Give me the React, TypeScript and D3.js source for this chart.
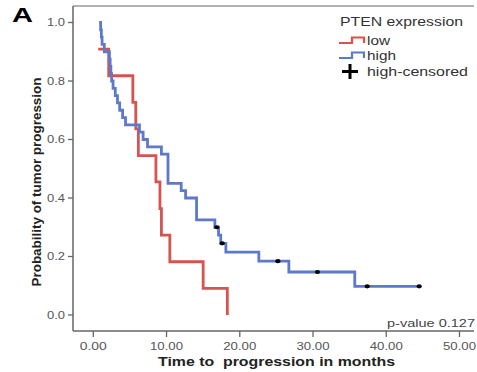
import React from "react";
import * as d3 from "d3";

// Low PTEN expression (n=11): step times and survival after step (first = start point)
const lowTimes = [0.68, 2.1, 5.4, 5.8, 6.15, 8.55, 9.1, 9.3, 10.45, 15.0, 18.3];
const lowSurv = [0.909, 0.818, 0.727, 0.636, 0.545, 0.455, 0.364, 0.273, 0.182, 0.091, 0.0];

// High PTEN expression (n=40)
const highTimes = [0.8, 1.0, 1.1, 1.2, 1.5, 2.2, 2.3, 2.4, 2.5, 2.7, 3.0, 3.3, 3.6, 4.0, 4.4, 6.3, 6.8, 7.4, 9.3, 10.2, 12.0, 12.6, 14.1, 16.6, 17.1, 17.4, 18.1, 22.6, 26.7, 35.7, 44.5];
const highSurv = [1.0, 0.975, 0.95, 0.925, 0.9, 0.875, 0.85, 0.825, 0.8, 0.775, 0.75, 0.725, 0.7, 0.675, 0.65, 0.625, 0.6, 0.575, 0.55, 0.45, 0.425, 0.4, 0.325, 0.3, 0.273, 0.245, 0.215, 0.184, 0.147, 0.098, 0.098];

// Censored observations (high group)
const censorTimes = [16.85, 17.6, 25.2, 30.6, 37.4, 44.5];
const censorSurv = [0.3, 0.245, 0.184, 0.147, 0.098, 0.098];

const xTicks = [0, 10, 20, 30, 40, 50];
const yTicks = [0, 0.2, 0.4, 0.6, 0.8, 1.0];

const RED = "#d65450";
const BLUE = "#5d79c9";
const FONT = "'Liberation Sans', Arial, sans-serif";

export default function App() {
  const x = d3.scaleLinear().domain([0, 50]).range([93.3, 459.5]);
  const y = d3.scaleLinear().domain([0, 1]).range([315, 22.5]);
  const line = d3
    .line<[number, number]>()
    .x((d) => x(d[0]))
    .y((d) => y(d[1]))
    .curve(d3.curveStepAfter);
  const lowPts = lowTimes.map((t, i) => [t, lowSurv[i]] as [number, number]);
  const highPts = highTimes.map((t, i) => [t, highSurv[i]] as [number, number]);

  const left = 73, top = 6, bottom = 331, right = 474;

  return (
    <svg
      width={477}
      height={372}
      style={{ position: "absolute", left: 0, top: 0, background: "#fff" }}
      fontFamily={FONT}
    >
      <rect width={477} height={372} fill="#fff" />
      {/* frame */}
      <line x1={left} y1={top} x2={right} y2={top} stroke="#999" strokeWidth={1.3} />
      <line x1={left} y1={top} x2={left} y2={bottom} stroke="#666" strokeWidth={1.5} />
      <line x1={left} y1={bottom} x2={right} y2={bottom} stroke="#666" strokeWidth={1.5} />

      {/* y ticks */}
      {yTicks.map((v) => (
        <g key={"y" + v}>
          <line x1={68} x2={left} y1={y(v)} y2={y(v)} stroke="#666" strokeWidth={1.3} />
          <text
            x={65}
            y={y(v)}
            dy="0.35em"
            textAnchor="end"
            fontSize={10}
            fill="#555"
            textLength={18}
            lengthAdjust="spacingAndGlyphs"
          >
            {v.toFixed(1)}
          </text>
        </g>
      ))}

      {/* x ticks */}
      {xTicks.map((v) => (
        <g key={"x" + v}>
          <line x1={x(v)} x2={x(v)} y1={bottom} y2={bottom + 6} stroke="#666" strokeWidth={1.3} />
          <text
            x={x(v) - (v === 0 ? 13.5 : 16.5)}
            y={349.5}
            fontSize={10}
            fill="#555"
            textLength={v === 0 ? 27 : 33}
            lengthAdjust="spacingAndGlyphs"
          >
            {v.toFixed(2)}
          </text>
        </g>
      ))}

      {/* curves */}
      <path d={line(lowPts) || ""} fill="none" stroke={RED} strokeWidth={2.8} />
      <path d={line(highPts) || ""} fill="none" stroke={BLUE} strokeWidth={2.8} />
      {censorTimes.map((t, i) => (
        <ellipse key={"c" + i} cx={x(t)} cy={y(censorSurv[i])} rx={2.6} ry={2.1} fill="#000" />
      ))}

      {/* panel letter */}
      <text x={12} y={22} fontSize={19.5} fontWeight="bold" fill="#000" textLength={21} lengthAdjust="spacingAndGlyphs">
        A
      </text>

      {/* legend */}
      <text x={340} y={26} fontSize={12.5} fill="#333" textLength={123} lengthAdjust="spacingAndGlyphs">
        PTEN expression
      </text>
      <path d="M339,43 H352 V37.5 H364 V43" fill="none" stroke={RED} strokeWidth={2.2} />
      <text x={367} y={44.5} fontSize={12} fill="#333" textLength={23} lengthAdjust="spacingAndGlyphs">
        low
      </text>
      <path d="M339,58 H352 V52.5 H364 V58" fill="none" stroke={BLUE} strokeWidth={2.2} />
      <text x={367} y={59.5} fontSize={12} fill="#333" textLength={29} lengthAdjust="spacingAndGlyphs">
        high
      </text>
      <line x1={342} x2={358} y1={71.5} y2={71.5} stroke="#000" strokeWidth={3} />
      <line x1={350} x2={350} y1={64} y2={79} stroke="#000" strokeWidth={3} />
      <text x={367} y={75.5} fontSize={12} fill="#333" textLength={101} lengthAdjust="spacingAndGlyphs">
        high-censored
      </text>

      {/* p-value */}
      <text x={387} y={327} fontSize={11.5} fill="#444" textLength={88} lengthAdjust="spacingAndGlyphs">
        p-value 0.127
      </text>

      {/* axis titles */}
      <text x={158} y={366} fontSize={12.5} fontWeight="bold" fill="#222" textLength={237} lengthAdjust="spacingAndGlyphs">
        {"Time to\u00a0 progression in months"}
      </text>
      <text
        transform="translate(41,182) rotate(-90)"
        textAnchor="middle"
        fontSize={12.5}
        fontWeight="bold"
        fill="#222"
        textLength={209}
        lengthAdjust="spacingAndGlyphs"
      >
        Probability of tumor progression
      </text>
    </svg>
  );
}
